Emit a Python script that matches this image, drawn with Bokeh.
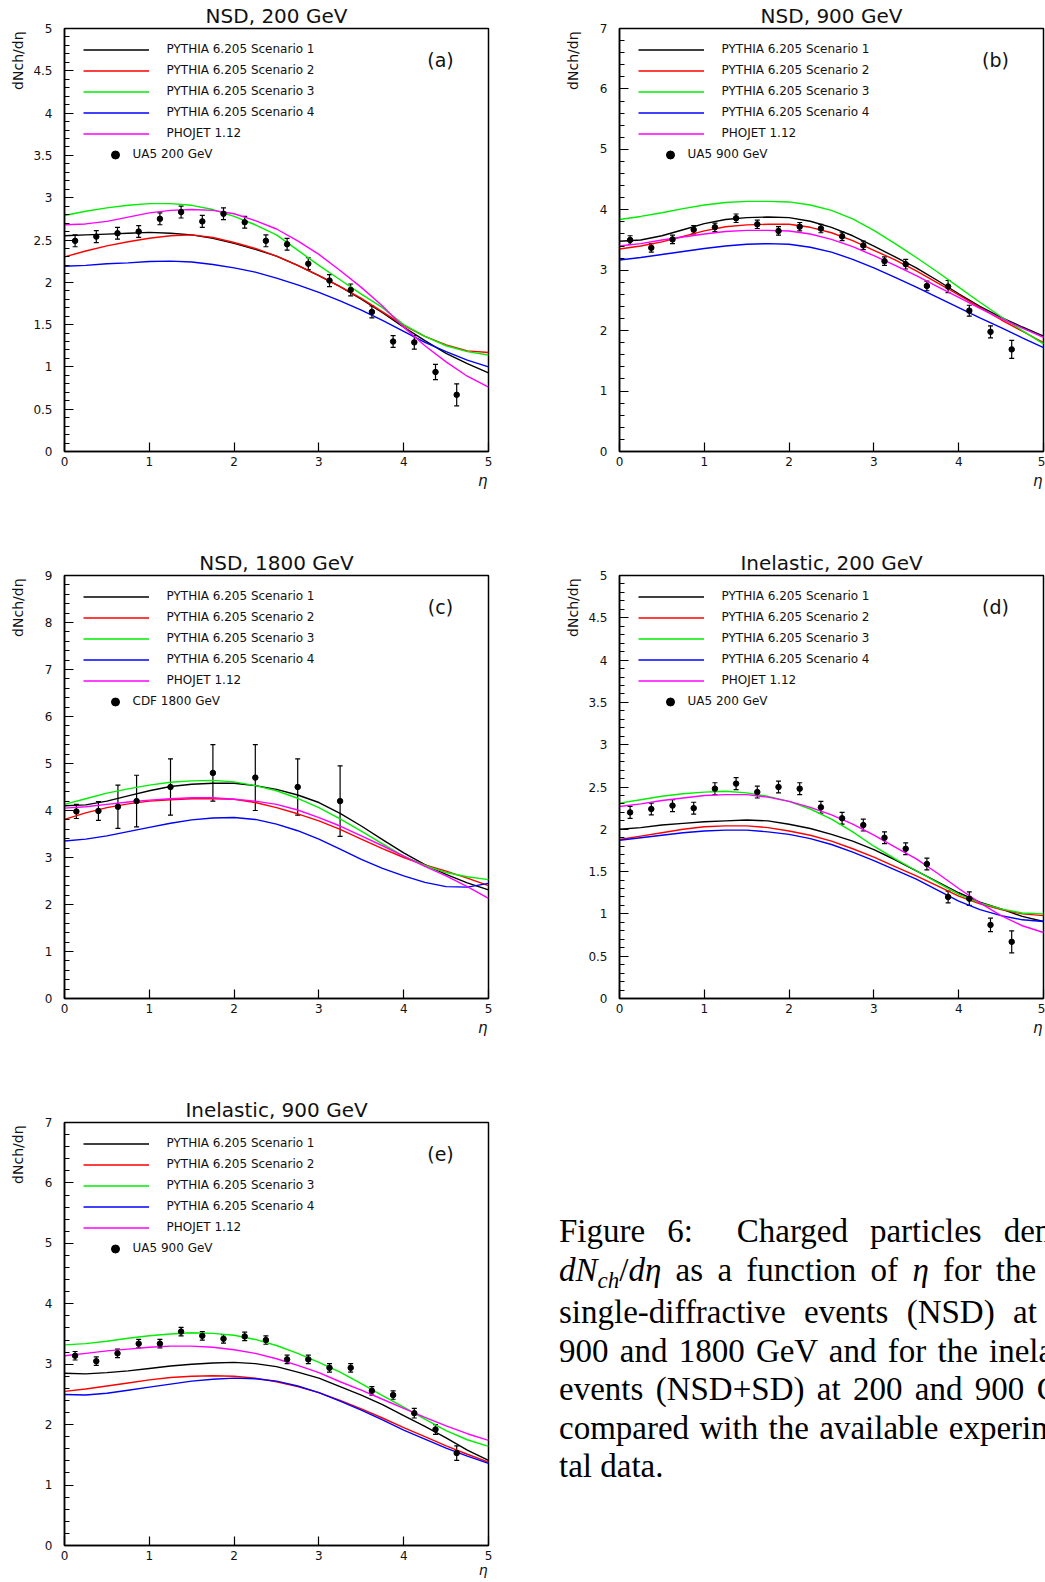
from bokeh.plotting import figure
from bokeh.models import (Range1d, SingleIntervalTicker, CustomJSTickFormatter, Label, Title,
                          Legend, LegendItem, Whisker, TeeHead, ColumnDataSource, Div)
from bokeh.layouts import row, column
from bokeh.embed import file_html
from bokeh.resources import INLINE

# ---------------- data ----------------
ETA = [0.0, 0.25, 0.5, 0.75, 1.0, 1.25, 1.5, 1.75, 2.0, 2.25, 2.5, 2.75, 3.0,
       3.25, 3.5, 3.75, 4.0, 4.25, 4.5, 4.75, 5.0]
SERIES = ["PYTHIA 6.205 Scenario 1", "PYTHIA 6.205 Scenario 2", "PYTHIA 6.205 Scenario 3",
          "PYTHIA 6.205 Scenario 4", "PHOJET 1.12"]
UA5_ETA = [0.125, 0.375, 0.625, 0.875, 1.125, 1.375, 1.625, 1.875, 2.125, 2.375,
           2.625, 2.875, 3.125, 3.375, 3.625, 3.875, 4.125, 4.375, 4.625]

# (a) NSD 200 GeV
A_SC1 = [2.55, 2.56, 2.57, 2.58, 2.59, 2.58, 2.56, 2.52, 2.46, 2.39, 2.31, 2.20, 2.08, 1.95, 1.80, 1.64, 1.47, 1.31, 1.16, 1.04, 0.93]
A_SC2 = [2.30, 2.37, 2.43, 2.48, 2.52, 2.55, 2.56, 2.53, 2.47, 2.40, 2.31, 2.20, 2.08, 1.95, 1.81, 1.65, 1.49, 1.36, 1.26, 1.19, 1.17]
A_SC3 = [2.79, 2.84, 2.88, 2.91, 2.93, 2.93, 2.91, 2.86, 2.78, 2.68, 2.56, 2.38, 2.20, 2.03, 1.86, 1.70, 1.50, 1.36, 1.25, 1.18, 1.14]
A_SC4 = [2.19, 2.20, 2.22, 2.23, 2.245, 2.25, 2.24, 2.21, 2.17, 2.12, 2.05, 1.97, 1.88, 1.78, 1.67, 1.55, 1.42, 1.29, 1.18, 1.08, 1.00]
A_PHO = [2.68, 2.69, 2.72, 2.77, 2.82, 2.85, 2.86, 2.85, 2.81, 2.73, 2.63, 2.49, 2.33, 2.14, 1.94, 1.72, 1.47, 1.25, 1.06, 0.89, 0.76]
A_Y = [2.49, 2.54, 2.58, 2.60, 2.75, 2.83, 2.72, 2.81, 2.71, 2.49, 2.45, 2.22, 2.02, 1.91, 1.65, 1.30, 1.29, 0.94, 0.67]
A_ERR = [0.07, 0.07, 0.07, 0.07, 0.07, 0.07, 0.07, 0.07, 0.07, 0.07, 0.07, 0.07, 0.07, 0.07, 0.07, 0.07, 0.08, 0.09, 0.13]

# (b) NSD 900 GeV
B_SC1 = [3.48, 3.50, 3.57, 3.67, 3.77, 3.84, 3.87, 3.88, 3.87, 3.81, 3.71, 3.57, 3.40, 3.22, 3.04, 2.83, 2.61, 2.40, 2.22, 2.06, 1.91]
B_SC2 = [3.35, 3.40, 3.47, 3.56, 3.65, 3.72, 3.75, 3.76, 3.76, 3.71, 3.62, 3.49, 3.33, 3.17, 2.99, 2.79, 2.59, 2.38, 2.18, 1.99, 1.80]
B_SC3 = [3.84, 3.89, 3.95, 4.02, 4.08, 4.12, 4.14, 4.14, 4.13, 4.08, 3.99, 3.85, 3.66, 3.44, 3.21, 2.97, 2.72, 2.47, 2.23, 2.00, 1.78]
B_SC4 = [3.17, 3.21, 3.26, 3.31, 3.36, 3.40, 3.43, 3.44, 3.43, 3.38, 3.30, 3.18, 3.04, 2.88, 2.72, 2.55, 2.38, 2.21, 2.05, 1.88, 1.72]
B_PHO = [3.40, 3.44, 3.50, 3.55, 3.60, 3.64, 3.66, 3.66, 3.65, 3.60, 3.51, 3.39, 3.24, 3.08, 2.91, 2.73, 2.55, 2.37, 2.20, 2.04, 1.89]
B_Y = [3.50, 3.37, 3.51, 3.67, 3.71, 3.86, 3.76, 3.65, 3.72, 3.69, 3.56, 3.41, 3.15, 3.10, 2.74, 2.73, 2.33, 1.98, 1.69]
B_ERR = [0.07, 0.07, 0.07, 0.07, 0.07, 0.07, 0.07, 0.07, 0.07, 0.07, 0.07, 0.07, 0.07, 0.08, 0.08, 0.10, 0.09, 0.10, 0.15]

# (c) NSD 1800 GeV
C_SC1 = [4.10, 4.12, 4.20, 4.31, 4.42, 4.51, 4.56, 4.58, 4.58, 4.53, 4.45, 4.33, 4.17, 3.94, 3.67, 3.38, 3.10, 2.85, 2.64, 2.46, 2.31]
C_SC2 = [3.81, 3.95, 4.06, 4.14, 4.20, 4.23, 4.25, 4.25, 4.24, 4.17, 4.06, 3.93, 3.78, 3.60, 3.39, 3.19, 3.00, 2.84, 2.71, 2.56, 2.40]
C_SC3 = [4.13, 4.25, 4.37, 4.46, 4.54, 4.60, 4.63, 4.64, 4.61, 4.53, 4.42, 4.26, 4.06, 3.82, 3.56, 3.29, 3.03, 2.83, 2.68, 2.59, 2.53]
C_SC4 = [3.35, 3.39, 3.46, 3.55, 3.64, 3.73, 3.80, 3.84, 3.85, 3.81, 3.71, 3.57, 3.39, 3.18, 2.96, 2.77, 2.61, 2.47, 2.38, 2.37, 2.45]
C_PHO = [4.05, 4.08, 4.13, 4.18, 4.22, 4.25, 4.27, 4.27, 4.24, 4.20, 4.13, 4.01, 3.85, 3.67, 3.46, 3.25, 3.03, 2.81, 2.61, 2.38, 2.13]
CDF_ETA = [0.14, 0.40, 0.63, 0.85, 1.25, 1.75, 2.25, 2.75, 3.25]
C_Y = [3.98, 3.99, 4.08, 4.20, 4.50, 4.80, 4.70, 4.50, 4.20]
C_ERR = [0.15, 0.20, 0.46, 0.55, 0.60, 0.60, 0.70, 0.60, 0.75]

# (d) Inelastic 200 GeV
D_SC1 = [2.00, 2.02, 2.05, 2.07, 2.09, 2.10, 2.11, 2.10, 2.06, 2.01, 1.94, 1.86, 1.76, 1.64, 1.51, 1.38, 1.25, 1.14, 1.06, 0.97, 0.91]
D_SC2 = [1.88, 1.92, 1.96, 2.00, 2.03, 2.04, 2.04, 2.02, 1.98, 1.93, 1.86, 1.77, 1.67, 1.56, 1.45, 1.33, 1.21, 1.12, 1.05, 1.00, 0.98]
D_SC3 = [2.31, 2.35, 2.39, 2.42, 2.44, 2.45, 2.43, 2.39, 2.33, 2.24, 2.12, 1.97, 1.80, 1.65, 1.51, 1.37, 1.23, 1.13, 1.06, 1.01, 1.00]
D_SC4 = [1.87, 1.90, 1.93, 1.96, 1.98, 1.99, 1.99, 1.97, 1.94, 1.89, 1.82, 1.73, 1.63, 1.52, 1.41, 1.28, 1.15, 1.05, 0.98, 0.93, 0.91]
D_PHO = [2.27, 2.30, 2.34, 2.37, 2.40, 2.41, 2.41, 2.38, 2.33, 2.26, 2.17, 2.06, 1.93, 1.79, 1.65, 1.48, 1.30, 1.13, 0.98, 0.86, 0.78]
D_Y = [2.20, 2.24, 2.28, 2.25, 2.48, 2.54, 2.44, 2.50, 2.48, 2.26, 2.13, 2.05, 1.90, 1.77, 1.59, 1.20, 1.18, 0.87, 0.67]
D_ERR = [0.07, 0.07, 0.07, 0.07, 0.07, 0.07, 0.07, 0.07, 0.07, 0.07, 0.07, 0.07, 0.07, 0.07, 0.07, 0.07, 0.08, 0.08, 0.13]

# (e) Inelastic 900 GeV
E_SC1 = [2.85, 2.84, 2.86, 2.89, 2.93, 2.97, 3.00, 3.02, 3.03, 3.01, 2.96, 2.87, 2.77, 2.63, 2.49, 2.33, 2.15, 1.97, 1.78, 1.58, 1.41]
E_SC2 = [2.55, 2.59, 2.64, 2.69, 2.74, 2.78, 2.80, 2.81, 2.80, 2.77, 2.71, 2.63, 2.53, 2.40, 2.26, 2.11, 1.95, 1.80, 1.65, 1.51, 1.38]
E_SC3 = [3.32, 3.34, 3.38, 3.43, 3.47, 3.50, 3.52, 3.51, 3.48, 3.41, 3.31, 3.18, 3.03, 2.87, 2.68, 2.48, 2.29, 2.09, 1.90, 1.75, 1.64]
E_SC4 = [2.50, 2.49, 2.52, 2.57, 2.62, 2.67, 2.72, 2.75, 2.77, 2.76, 2.72, 2.64, 2.53, 2.39, 2.24, 2.08, 1.91, 1.76, 1.61, 1.48, 1.36]
E_PHO = [3.14, 3.18, 3.22, 3.25, 3.28, 3.30, 3.30, 3.28, 3.24, 3.18, 3.09, 2.98, 2.86, 2.71, 2.57, 2.42, 2.27, 2.12, 1.98, 1.85, 1.74]
E_Y = [3.14, 3.05, 3.18, 3.34, 3.34, 3.54, 3.47, 3.42, 3.46, 3.40, 3.08, 3.08, 2.94, 2.94, 2.56, 2.49, 2.19, 1.92, 1.53]
E_ERR = [0.07, 0.07, 0.07, 0.07, 0.07, 0.07, 0.07, 0.07, 0.07, 0.07, 0.07, 0.07, 0.07, 0.07, 0.07, 0.07, 0.08, 0.08, 0.12]

COLORS = ["#000000", "#ff0000", "#00ee00", "#0000ff", "#ff00ff"]
FONT = "DejaVu Sans"
TXT = "#111111"


def make_panel(side, height, top, bottom, ymax, yint, title, tag, curves, dlabel,
               dx, dy, derr, eta_size, eta_standoff):
    left = side == "left"
    p = figure(width=526 if left else 519, height=height,
               x_range=Range1d(0, 5), y_range=Range1d(0, ymax),
               toolbar_location=None, output_backend="svg", title=title,
               min_border_left=64 if left else 93, min_border_right=38 if left else 2,
               min_border_top=top, min_border_bottom=bottom)
    p.title.align = "center"
    p.title.vertical_align = "bottom"
    p.title.standoff = 2
    p.title.text_font = FONT
    p.title.text_font_size = "20px"
    p.title.text_font_style = "normal"
    p.title.text_color = TXT

    p.xgrid.visible = False
    p.ygrid.visible = False
    p.outline_line_color = "black"
    p.outline_line_width = 1.5
    p.background_fill_color = "white"
    p.border_fill_color = "white"

    p.xaxis.ticker = SingleIntervalTicker(interval=1, num_minor_ticks=0)
    p.yaxis.ticker = SingleIntervalTicker(interval=yint, num_minor_ticks=5)
    p.xaxis.formatter = CustomJSTickFormatter(code="return String(Math.round(tick*10)/10)")
    if yint < 1:
        ycode = "return String(Math.round(tick*10)/10)"
    else:
        # pad integer labels so the axis takes the same room as '4.5'
        ycode = "return '\\u2007\\u2008' + String(Math.round(tick))"
    p.yaxis.formatter = CustomJSTickFormatter(code=ycode)
    for ax in (p.xaxis[0], p.yaxis[0]):
        ax.axis_line_width = 1.5
        ax.axis_line_color = "black"
        ax.major_tick_in = 9
        ax.major_tick_out = 0
        ax.minor_tick_in = 5
        ax.minor_tick_out = 0
        ax.major_tick_line_width = 1.2
        ax.minor_tick_line_width = 1.2
        ax.major_tick_line_color = "black"
        ax.minor_tick_line_color = "black"
        ax.major_label_text_font = FONT
        ax.major_label_text_font_size = "12px"
        ax.major_label_text_color = TXT
    p.xaxis.minor_tick_line_color = None
    p.yaxis.major_label_standoff = 12
    p.xaxis.major_label_standoff = 5

    rends = []
    for ys, col in zip(curves, COLORS):
        rends.append(p.line(ETA, ys, line_color=col, line_width=1.4))

    src = ColumnDataSource(dict(x=dx, y=dy,
                                lo=[a - b for a, b in zip(dy, derr)],
                                hi=[a + b for a, b in zip(dy, derr)]))
    p.add_layout(Whisker(source=src, base="x", lower="lo", upper="hi",
                         line_color="black", line_width=1.2,
                         lower_head=TeeHead(size=5, line_width=1.2, line_color="black"),
                         upper_head=TeeHead(size=5, line_width=1.2, line_color="black")))
    dr = p.scatter("x", "y", source=src, size=5.5, color="black")

    leg1 = Legend(items=[LegendItem(label=s, renderers=[r]) for s, r in zip(SERIES, rends)],
                  location=(18.5, 307.5), orientation="vertical",
                  glyph_width=66, glyph_height=21, label_height=21, label_standoff=18,
                  spacing=0, padding=0, margin=0,
                  border_line_alpha=0, background_fill_alpha=0,
                  label_text_font=FONT, label_text_font_size="12px", label_text_color=TXT)
    leg2 = Legend(items=[LegendItem(label=dlabel, renderers=[dr])],
                  location=(40.5, 286.5), orientation="vertical",
                  glyph_width=20, glyph_height=21, label_height=21, label_standoff=8,
                  spacing=0, padding=0, margin=0,
                  border_line_alpha=0, background_fill_alpha=0,
                  label_text_font=FONT, label_text_font_size="12px", label_text_color=TXT)
    p.add_layout(leg1)
    p.add_layout(leg2)

    # panel tag inside the frame
    p.add_layout(Label(x=376, y=392, x_units="screen", y_units="screen", text=tag,
                       text_align="center", text_baseline="middle",
                       text_font=FONT, text_font_size="19px", text_color=TXT))
    # x title (eta) below the axis, at the right end
    p.add_layout(Title(text="η", align="right", vertical_align="top", offset=1,
                       standoff=eta_standoff, text_font=FONT, text_font_size=eta_size,
                       text_font_style="italic", text_color=TXT), "below")
    # y title at the top end of the left axis
    p.add_layout(Title(text="dNch/dη", align="right", vertical_align="bottom", offset=3,
                       standoff=10, text_font=FONT, text_font_size="14px",
                       text_font_style="normal", text_color=TXT), "left")
    return p


pa = make_panel("left", 547, 27, 96, 5, 0.5, "NSD, 200 GeV", "(a)",
                [A_SC1, A_SC2, A_SC3, A_SC4, A_PHO], "UA5 200 GeV", UA5_ETA, A_Y, A_ERR, "15px", 6)
pb = make_panel("right", 547, 27, 96, 7, 1, "NSD, 900 GeV", "(b)",
                [B_SC1, B_SC2, B_SC3, B_SC4, B_PHO], "UA5 900 GeV", UA5_ETA, B_Y, B_ERR, "15px", 6)
pc = make_panel("left", 547, 27, 96, 9, 1, "NSD, 1800 GeV", "(c)",
                [C_SC1, C_SC2, C_SC3, C_SC4, C_PHO], "CDF 1800 GeV", CDF_ETA, C_Y, C_ERR, "15px", 6)
pd = make_panel("right", 547, 27, 96, 5, 0.5, "Inelastic, 200 GeV", "(d)",
                [D_SC1, D_SC2, D_SC3, D_SC4, D_PHO], "UA5 200 GeV", UA5_ETA, D_Y, D_ERR, "15px", 6)
pe = make_panel("left", 488, 27, 37, 7, 1, "Inelastic, 900 GeV", "(e)",
                [E_SC1, E_SC2, E_SC3, E_SC4, E_PHO], "UA5 900 GeV", UA5_ETA, E_Y, E_ERR, "14px", -2)

CAPTION_LINES = [
    ("Figure 6:&nbsp; Charged particles density", 540),
    ("<i>dN</i><span style=\"font-size:23px;position:relative;top:7px;font-style:italic\">ch</span>/<i>dη</i>"
     " as a function of <i>η</i> for the non-", 552),
    ("single-diffractive events (NSD) at 200,", 554),
    ("900 and 1800 GeV and for the inelastic", 540),
    ("events (NSD+SD) at 200 and 900 GeV", 540),
    ("compared with the available experimen-", 540),
]
CAPTION_LAST = "tal data."

inner = "".join(
    f'<div style="width:{w}px;margin:0;padding:0;text-align:justify;text-align-last:justify;">{t}</div>'
    for t, w in CAPTION_LINES)
inner += f'<div style="width:540px;margin:0;padding:0;text-align:left;">{CAPTION_LAST}</div>'
html = ('<div style="padding:118px 0 0 33px;margin:0;">'
        '<div style="width:486px;overflow:hidden;margin:0;font-family:\'Liberation Serif\',serif;'
        'font-size:33px;line-height:38.5px;color:#000;">' + inner + '</div></div>')
cap = Div(text=html, width=519, height=488, margin=0)

layout = column(row(pa, pb), row(pc, pd), row(pe, cap))
open("out.html", "w").write(file_html(layout, INLINE))
